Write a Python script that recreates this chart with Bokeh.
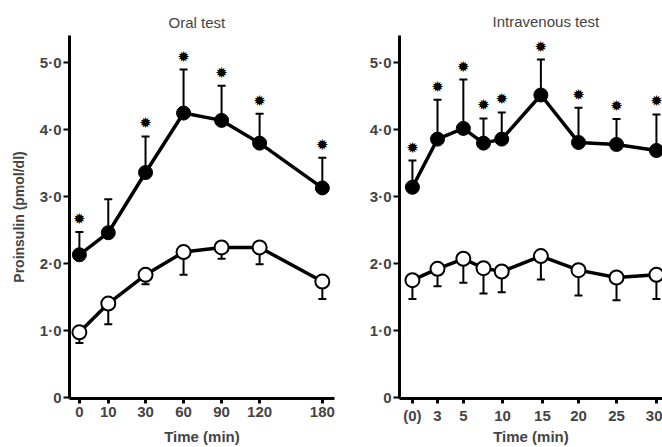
from bokeh.plotting import figure
from bokeh.layouts import row
from bokeh.models import ColumnDataSource, Whisker, TeeHead, FixedTicker, Range1d
from bokeh.core.properties import value
from bokeh.embed import file_html
from bokeh.resources import INLINE

# ---------------- data ----------------
# Oral test
oral_time_labels = ["0", "10", "30", "60", "90", "120", "180"]
oral_xpos = [0.0, 0.76, 1.74, 2.74, 3.74, 4.74, 6.39]   # non-linear axis positions
oral_filled = [2.13, 2.46, 3.36, 4.25, 4.14, 3.80, 3.13]
oral_filled_upper = [2.47, 2.96, 3.90, 4.90, 4.66, 4.24, 3.58]
oral_filled_sig = [True, False, True, True, True, True, True]
oral_open = [0.97, 1.40, 1.83, 2.17, 2.24, 2.24, 1.73]
oral_open_lower = [0.81, 1.09, 1.69, 1.83, 2.07, 1.99, 1.47]

# Intravenous test
iv_tick_labels = ["(0)", "3", "5", "10", "15", "20", "25", "30"]
iv_tick_pos = [0.0, 0.66, 1.34, 2.37, 3.42, 4.37, 5.37, 6.42]
iv_xpos = [0.0, 0.66, 1.34, 1.87, 2.35, 3.38, 4.37, 5.37, 6.42]
iv_filled = [3.14, 3.86, 4.02, 3.80, 3.86, 4.52, 3.81, 3.78, 3.69]
iv_filled_upper = [3.54, 4.45, 4.75, 4.17, 4.26, 5.05, 4.33, 4.16, 4.23]
iv_filled_sig = [True] * 9
iv_open = [1.75, 1.92, 2.07, 1.93, 1.88, 2.11, 1.90, 1.79, 1.83]
iv_open_lower = [1.47, 1.66, 1.71, 1.55, 1.57, 1.76, 1.52, 1.45, 1.47]

y_ticks = [0, 1, 2, 3, 4, 5]
y_tick_labels = ["0", "1·0", "2·0", "3·0", "4·0", "5·0"]

FONT = "Liberation Sans"


def make_panel(title, title_offset, title_standoff, xpos, tick_pos, tick_labels, filled,
               f_up, sig, opn, o_lo, width, x_range, border_left, border_right,
               border_top, ylabel, xlabel_standoff):
    p = figure(width=width, height=447, output_backend="svg", toolbar_location=None,
               x_range=Range1d(*x_range), y_range=Range1d(-0.02, 5.41),
               min_border_left=border_left, min_border_right=border_right,
               min_border_top=border_top, min_border_bottom=49)
    p.outline_line_color = None
    p.grid.visible = False
    p.background_fill_color = "white"
    p.border_fill_color = "white"

    p.title.text = title
    p.title.align = "left"
    p.title.offset = title_offset
    p.title.text_font = FONT
    p.title.text_font_size = "15px"
    p.title.text_font_style = "normal"
    p.title.standoff = title_standoff

    # axes
    xa = p.xaxis[0]
    xa.ticker = FixedTicker(ticks=tick_pos)
    xa.major_label_overrides = {t: l for t, l in zip(tick_pos, tick_labels)}
    xa.minor_tick_line_color = None
    xa.axis_line_width = 3
    xa.major_tick_line_width = 3
    xa.major_tick_in = 0
    xa.major_tick_out = 5
    xa.major_label_standoff = 3
    xa.major_label_text_font = FONT
    xa.major_label_text_font_style = "bold"
    xa.major_label_text_font_size = "15px"
    xa.axis_label = "Time (min)"
    xa.axis_label_text_font = FONT
    xa.axis_label_text_font_style = "bold"
    xa.axis_label_text_font_size = "15px"
    xa.axis_label_standoff = xlabel_standoff

    ya = p.yaxis[0]
    ya.ticker = FixedTicker(ticks=y_ticks)
    ya.major_label_overrides = {t: l for t, l in zip(y_ticks, y_tick_labels)}
    ya.minor_tick_line_color = None
    ya.axis_line_width = 3
    ya.major_tick_line_width = 2
    ya.major_tick_in = 0
    ya.major_tick_out = 6
    ya.major_label_standoff = 2
    ya.major_label_text_font = FONT
    ya.major_label_text_font_style = "bold"
    ya.major_label_text_font_size = "15px"
    if ylabel:
        ya.axis_label = ylabel
        ya.axis_label_text_font = FONT
        ya.axis_label_text_font_style = "bold"
        ya.axis_label_text_font_size = "14px"
        ya.axis_label_standoff = 10

    # filled series (error bars upward)
    fs = ColumnDataSource(dict(x=xpos, y=filled, up=f_up))
    p.add_layout(Whisker(source=fs, base="x", lower="y", upper="up", dimension="height",
                         line_width=2, line_color="black", lower_head=None,
                         upper_head=TeeHead(size=8, line_width=2, line_color="black"),
                         level="underlay"))
    p.line("x", "y", source=fs, line_width=3.5, line_color="black")
    p.scatter("x", "y", source=fs, size=14, fill_color="black", line_color="black")

    # significance stars
    sx = [x for x, s in zip(xpos, sig) if s]
    sy = [u for u, s in zip(f_up, sig) if s]
    ss = ColumnDataSource(dict(x=sx, y=sy, t=["✹"] * len(sx)))
    p.text("x", "y", text="t", source=ss, y_offset=-13, text_align="center",
           text_baseline="middle", text_font=value("DejaVu Sans"),
           text_font_size="15px", text_color="black")

    # open series (error bars downward)
    os_ = ColumnDataSource(dict(x=xpos, y=opn, lo=o_lo))
    p.add_layout(Whisker(source=os_, base="x", lower="lo", upper="y", dimension="height",
                         line_width=2, line_color="black", upper_head=None,
                         lower_head=TeeHead(size=8, line_width=2, line_color="black"),
                         level="underlay"))
    p.line("x", "y", source=os_, line_width=3.5, line_color="black")
    p.scatter("x", "y", source=os_, size=14, fill_color="white", line_color="black",
              line_width=2)
    return p


p1 = make_panel("Oral test", 99, 10, oral_xpos, oral_xpos, oral_time_labels, oral_filled,
                oral_filled_upper, oral_filled_sig, oral_open, oral_open_lower,
                348, (-0.26, 6.71), 69, 14, 33, "Proinsulin (pmol/dl)", 8)
p2 = make_panel("Intravenous test", 93, 12, iv_xpos, iv_tick_pos, iv_tick_labels,
                iv_filled, iv_filled_upper, iv_filled_sig, iv_open, iv_open_lower,
                314, (-0.34, 6.58), 51, 0, 35, None, 1)

layout = row(p1, p2)
open("out.html", "w").write(file_html(layout, INLINE))
